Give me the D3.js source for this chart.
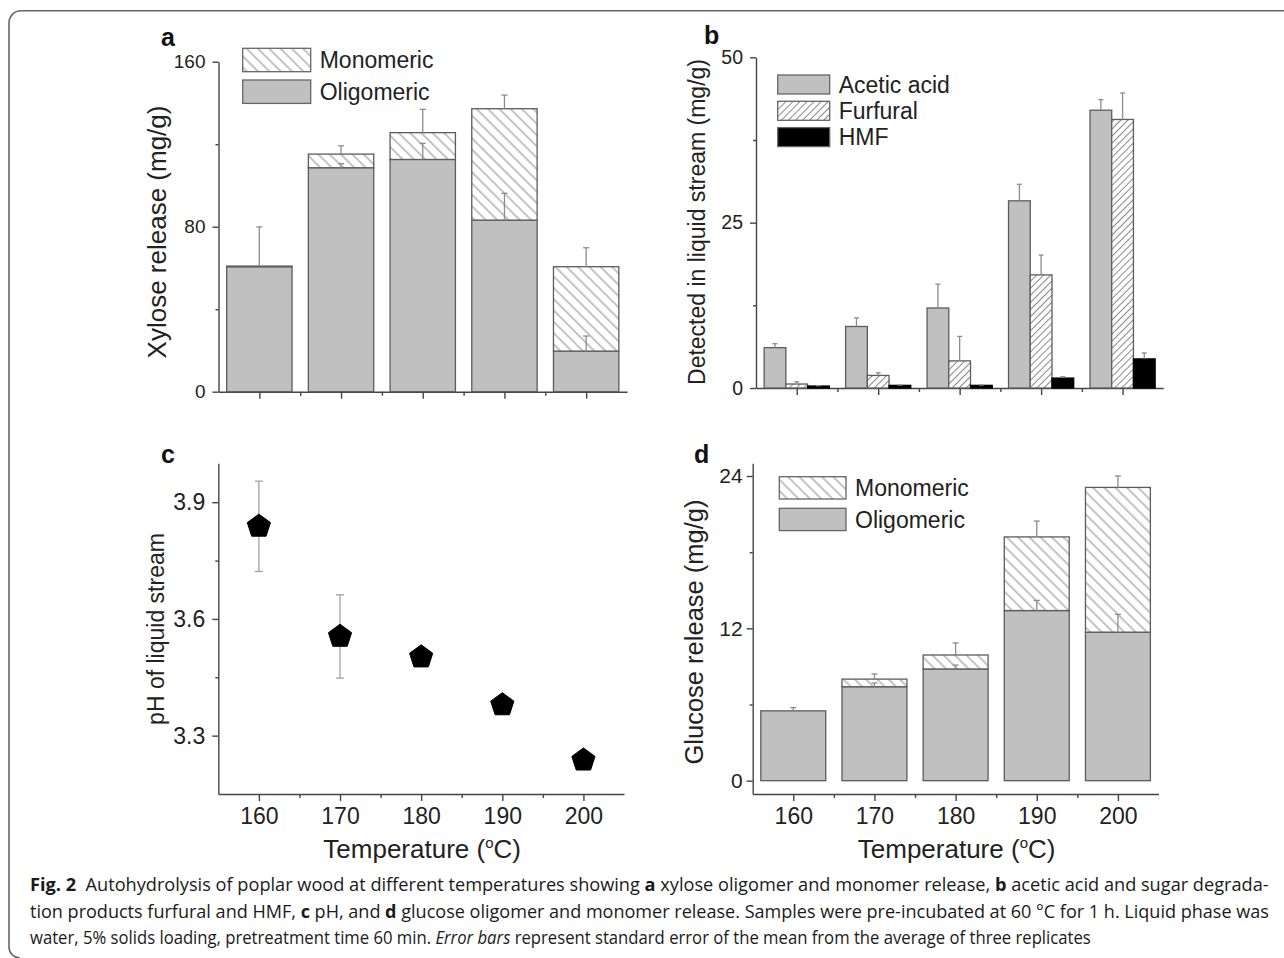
<!DOCTYPE html>
<html>
<head>
<meta charset="utf-8">
<script src="https://cdn.jsdelivr.net/npm/d3@7"></script>
<style>
body { margin: 0; background: #fff; }
svg { display: block; font-family: "Liberation Sans", Arial, sans-serif; }
.axis path, .axis line { stroke: #444; stroke-width: 1.4; }
.axis text { fill: #222; font-family: "Liberation Sans", Arial, sans-serif; }
</style>
</head>
<body>
<svg id="fig" width="1284" height="958"></svg>
<script>
var temps = [160, 170, 180, 190, 200];

// a: xylose release (mg/g)
var xylOligo = [60.6, 108.6, 112.6, 83.2, 19.7];
var xylMono = [0.3, 6.6, 13.0, 54.0, 40.9];
var xylOligoErr = [0, 2, 7.8, 13, 7.3];
var xylTotalErr = [19, 4, 11.3, 6.6, 9.2];

// b: detected in liquid stream (mg/g)
var acetic = [6.1, 9.3, 12.1, 28.3, 42.0];
var aceticErr = [0.6, 1.3, 3.6, 2.5, 1.6];
var furfural = [0.6, 1.9, 4.1, 17.1, 40.6];
var furfuralErr = [0.35, 0.4, 3.7, 3.0, 4.0];
var hmf = [0.3, 0.4, 0.4, 1.5, 4.4];
var hmfErr = [0.05, 0.05, 0.05, 0.2, 0.9];

// c: pH of liquid stream
var ph = [3.838, 3.555, 3.502, 3.379, 3.237];
var phErr = [0.116, 0.107, 0.01, 0.01, 0.012];

// d: glucose release (mg/g)
var gluOligo = [5.5, 7.4, 8.8, 13.4, 11.7];
var gluMono = [0, 0.6, 1.1, 5.8, 11.4];
var gluOligoErr = [0, 0.3, 0.3, 0.8, 1.4];
var gluTotalErr = [0.25, 0.4, 0.95, 1.25, 0.9];

var minorTemps = [165, 175, 185, 195];
var barFill = "#c0c0c0", barStroke = "#5c5c5c", errColor = "#8c8c8c";

var svg = d3.select("#fig");
svg.append("rect").attr("width", 1284).attr("height", 958).attr("fill", "#fff");
var defs = svg.append("defs");

function hatch(id, angle, gap) {
	var p = defs.append("pattern")
		.attr("id", id)
		.attr("patternUnits", "userSpaceOnUse")
		.attr("width", gap).attr("height", gap)
		.attr("patternTransform", "rotate(" + angle + ")");
	p.append("rect").attr("width", gap).attr("height", gap).attr("fill", "#fff");
	p.append("line")
		.attr("x1", gap / 2).attr("y1", 0)
		.attr("x2", gap / 2).attr("y2", gap)
		.attr("stroke", "#8a8a8a").attr("stroke-width", 1);
}
hatch("hatchBack", -45, 8);
hatch("hatchFwd", 45, 5);

// frame around the figure
svg.append("path")
	.attr("d", "M1284,10.8 H21 A12,12 0 0 0 9,22.8 V947 A11,11 0 0 0 20,958")
	.attr("fill", "none").attr("stroke", "#666").attr("stroke-width", 1.6);

function makePanel(o) {
	var x = d3.scaleLinear().domain([155, 205]).range([o.left, o.right]);
	var y = d3.scaleLinear().domain(o.yDomain).range([o.bottom, o.top]);
	var g = svg.append("g");
	var axisY = o.xAxisAt == null ? o.bottom : y(o.xAxisAt);

	var xMinor = g.append("g").attr("class", "axis")
		.attr("transform", "translate(0," + axisY + ")")
		.call(d3.axisBottom(x).tickValues(minorTemps).tickSize(4).tickSizeOuter(0).tickFormat(""));
	xMinor.select(".domain").remove();
	var xMajor = g.append("g").attr("class", "axis")
		.attr("transform", "translate(0," + axisY + ")")
		.call(d3.axisBottom(x).tickValues(temps).tickSize(7).tickPadding(7).tickSizeOuter(0)
			.tickFormat(o.xLabels ? d3.format("d") : ""));
	xMajor.selectAll("text").style("font-size", o.xTickFont + "px");

	var yMinor = g.append("g").attr("class", "axis")
		.attr("transform", "translate(" + o.left + ",0)")
		.call(d3.axisLeft(y).tickValues(o.yMinor).tickSize(3).tickSizeOuter(0).tickFormat(""));
	yMinor.select(".domain").remove();
	var yMajor = g.append("g").attr("class", "axis")
		.attr("transform", "translate(" + o.left + ",0)")
		.call(d3.axisLeft(y).tickValues(o.yTicks).tickSize(6).tickPadding(o.yPad).tickSizeOuter(0)
			.tickFormat(o.yFormat));
	yMajor.selectAll("text").style("font-size", o.yTickFont + "px");

	// panel letter
	g.append("text").attr("x", o.letterX).attr("y", o.letterY)
		.style("font-size", "25px").style("font-weight", "bold").attr("fill", "#111")
		.text(o.letter);

	// y title
	g.append("text")
		.attr("transform", "translate(" + o.yTitleX + "," + o.yTitleY + ") rotate(-90)")
		.attr("text-anchor", "middle").attr("dy", "0.35em")
		.style("font-size", o.yTitleFont + "px").attr("fill", "#222")
		.text(o.yTitle);

	if (o.xTitle) {
		var t = g.append("text")
			.attr("x", (o.left + o.right) / 2 + 1).attr("y", 858)
			.attr("text-anchor", "middle")
			.style("font-size", "26px").attr("fill", "#222");
		t.append("tspan").text("Temperature (");
		t.append("tspan").attr("dy", -10).style("font-size", "15px").text("o");
		t.append("tspan").attr("dy", 10).text("C)");
	}
	return { x: x, y: y, g: g };
}

function errUp(g, x, y, cx, v, e, cap) {
	if (e <= 0) return;
	g.append("line").attr("x1", x(cx)).attr("x2", x(cx))
		.attr("y1", y(v)).attr("y2", y(v + e))
		.attr("stroke", errColor).attr("stroke-width", 1.3);
	g.append("line").attr("x1", x(cx) - cap / 2).attr("x2", x(cx) + cap / 2)
		.attr("y1", y(v + e)).attr("y2", y(v + e))
		.attr("stroke", errColor).attr("stroke-width", 1.3);
}

function stackLegend(g, x0, y0, w, h, step, items, fontSize) {
	items.forEach(function(it, i) {
		g.append("rect").attr("x", x0).attr("y", y0 + i * step)
			.attr("width", w).attr("height", h)
			.attr("fill", it.fill).attr("stroke", "#666").attr("stroke-width", 1.3);
		g.append("text").attr("x", x0 + w + 9).attr("y", y0 + i * step + h / 2)
			.attr("dy", "0.36em").style("font-size", fontSize + "px").attr("fill", "#222")
			.text(it.label);
	});
}

function stackedBars(p, oligo, mono, oligoErr, totalErr) {
	var x = p.x, y = p.y, g = p.g;
	var bars = g.append("g");
	temps.forEach(function(t, i) {
		bars.append("rect")
			.attr("x", x(t - 4)).attr("width", x(t + 4) - x(t - 4))
			.attr("y", y(oligo[i])).attr("height", y(0) - y(oligo[i]))
			.attr("fill", barFill).attr("stroke", barStroke).attr("stroke-width", 1.3);
		if (mono[i] > 0) {
			bars.append("rect")
				.attr("x", x(t - 4)).attr("width", x(t + 4) - x(t - 4))
				.attr("y", y(oligo[i] + mono[i])).attr("height", y(oligo[i]) - y(oligo[i] + mono[i]))
				.attr("fill", "url(#hatchBack)").attr("stroke", barStroke).attr("stroke-width", 1.3);
		}
	});
	temps.forEach(function(t, i) {
		errUp(g, x, y, t, oligo[i], oligoErr[i], 6);
		errUp(g, x, y, t, oligo[i] + mono[i], totalErr[i], 6);
	});
}

// ---- panel a
var pa = makePanel({
	left: 218.5, right: 627, top: 61.7, bottom: 391.7, yDomain: [0, 160],
	yTicks: [0, 80, 160], yMinor: [40, 120], yFormat: d3.format("d"), yPad: 7,
	xLabels: false, xTickFont: 19, yTickFont: 19, xAxisAt: 0,
	letter: "a", letterX: 161, letterY: 46,
	yTitle: "Xylose release (mg/g)", yTitleX: 157, yTitleY: 232, yTitleFont: 26
});
stackedBars(pa, xylOligo, xylMono, xylOligoErr, xylTotalErr);
stackLegend(pa.g, 242.7, 48.3, 68, 23.4, 31.7, [
	{ fill: "url(#hatchBack)", label: "Monomeric" },
	{ fill: barFill, label: "Oligomeric" }
], 23);

// ---- panel b
var pb = makePanel({
	left: 756, right: 1163.3, top: 57.3, bottom: 388, yDomain: [0, 50],
	yTicks: [0, 25, 50], yMinor: [12.5, 37.5], yFormat: d3.format("d"), yPad: 7,
	xLabels: false, xTickFont: 19, yTickFont: 19.5, xAxisAt: 0,
	letter: "b", letterX: 704, letterY: 44,
	yTitle: "Detected in liquid stream (mg/g)", yTitleX: 697, yTitleY: 222, yTitleFont: 23
});
(function() {
	var x = pb.x, y = pb.y, g = pb.g;
	var w = 8 / 3;
	var series = [
		{ vals: acetic, errs: aceticErr, fill: barFill },
		{ vals: furfural, errs: furfuralErr, fill: "url(#hatchFwd)" },
		{ vals: hmf, errs: hmfErr, fill: "#000" }
	];
	series.forEach(function(s, k) {
		temps.forEach(function(t, i) {
			var x0 = t - 4 + k * w;
			g.append("rect")
				.attr("x", x(x0)).attr("width", x(x0 + w) - x(x0))
				.attr("y", y(s.vals[i])).attr("height", y(0) - y(s.vals[i]))
				.attr("fill", s.fill).attr("stroke", k == 2 ? "#000" : barStroke).attr("stroke-width", 1.3);
		});
	});
	series.forEach(function(s, k) {
		temps.forEach(function(t, i) {
			errUp(g, x, y, t - 4 + (k + 0.5) * w, s.vals[i], s.errs[i], 5);
		});
	});
	stackLegend(g, 777.7, 75, 52, 19, 26.3, [
		{ fill: barFill, label: "Acetic acid" },
		{ fill: "url(#hatchFwd)", label: "Furfural" },
		{ fill: "#000", label: "HMF" }
	], 23);
})();

// ---- panel c
var pc = makePanel({
	left: 218.3, right: 624, top: 463.3, bottom: 794, yDomain: [3.15, 4.0],
	yTicks: [3.3, 3.6, 3.9], yMinor: [3.45, 3.75], yFormat: d3.format(".1f"), yPad: 7,
	xLabels: true, xTickFont: 23, yTickFont: 23, xAxisAt: null,
	letter: "c", letterX: 161, letterY: 463,
	yTitle: "pH of liquid stream", yTitleX: 156, yTitleY: 629, yTitleFont: 23,
	xTitle: true
});
(function() {
	var x = pc.x, y = pc.y, g = pc.g;
	temps.forEach(function(t, i) {
		if (phErr[i] <= 0) return;
		var cx = x(t);
		g.append("line").attr("x1", cx).attr("x2", cx)
			.attr("y1", y(ph[i] - phErr[i])).attr("y2", y(ph[i] + phErr[i]))
			.attr("stroke", "#999").attr("stroke-width", 1.2);
		[ph[i] - phErr[i], ph[i] + phErr[i]].forEach(function(v) {
			g.append("line").attr("x1", cx - 4).attr("x2", cx + 4)
				.attr("y1", y(v)).attr("y2", y(v))
				.attr("stroke", "#999").attr("stroke-width", 1.2);
		});
	});
	var r = 12.2;
	var pent = d3.range(5).map(function(k) {
		var a = -Math.PI / 2 + k * 2 * Math.PI / 5;
		return [r * Math.cos(a), r * Math.sin(a)];
	});
	var pentPath = "M" + pent.join("L") + "Z";
	g.selectAll("path.pt").data(ph).enter().append("path")
		.attr("class", "pt")
		.attr("d", pentPath)
		.attr("transform", function(d, i) { return "translate(" + x(temps[i]) + "," + y(d) + ")"; })
		.attr("fill", "#000").attr("stroke", "#000").attr("stroke-width", 1).attr("stroke-linejoin", "round");
})();

// ---- panel d
var pd = makePanel({
	left: 752.7, right: 1158.5, top: 463.3, bottom: 794, yDomain: [-1.05, 25],
	yTicks: [0, 12, 24], yMinor: [6, 18], yFormat: d3.format("d"), yPad: 4,
	xLabels: true, xTickFont: 23, yTickFont: 21, xAxisAt: null,
	letter: "d", letterX: 694, letterY: 463,
	yTitle: "Glucose release (mg/g)", yTitleX: 694, yTitleY: 632, yTitleFont: 25.5,
	xTitle: true
});
stackedBars(pd, gluOligo, gluMono, gluOligoErr, gluTotalErr);
stackLegend(pd.g, 779.3, 476.7, 66.7, 22.3, 31.6, [
	{ fill: "url(#hatchBack)", label: "Monomeric" },
	{ fill: barFill, label: "Oligomeric" }
], 23);

// ---- caption (each line squeezed horizontally to the reference width)
var captionLines = [
	[{ t: "Fig. 2", b: 1 }, { t: "  Autohydrolysis of poplar wood at different temperatures showing " }, { t: "a", b: 1 },
	 { t: " xylose oligomer and monomer release, " }, { t: "b", b: 1 }, { t: " acetic acid and sugar degrada-" }],
	[{ t: "tion products furfural and HMF, " }, { t: "c", b: 1 }, { t: " pH, and " }, { t: "d", b: 1 },
	 { t: " glucose oligomer and monomer release. Samples were pre-incubated at 60 °C for 1 h. Liquid phase was" }],
	[{ t: "water, 5% solids loading, pretreatment time 60 min. " }, { t: "Error bars", i: 1 },
	 { t: " represent standard error of the mean from the average of three replicates" }]
];
var captionLengths = [1240, 1240, 1062];
var captionBase = [891, 918, 944];
captionLines.forEach(function(line, li) {
	var t = svg.append("text")
		.attr("x", 0).attr("y", 0)
		.style("font-family", "'Open Sans', 'Noto Sans', sans-serif")
		.style("font-size", "17.5px").style("white-space", "pre").attr("fill", "#1a1a1a");
	line.forEach(function(s) {
		t.append("tspan")
			.style("font-weight", s.b ? "bold" : "normal")
			.style("font-style", s.i ? "italic" : "normal")
			.text(s.t);
	});
	var natural = t.node().getComputedTextLength();
	var sx = captionLengths[li] / natural;
	t.attr("transform", "translate(30," + captionBase[li] + ") scale(" + sx + ",1)");
});
</script>
</body>
</html>
